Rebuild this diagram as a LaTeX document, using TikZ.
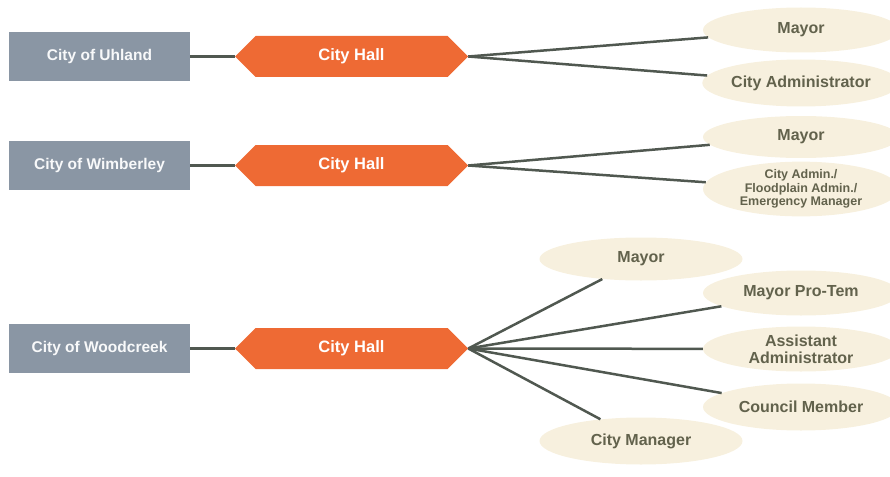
\documentclass[tikz,border=0pt]{standalone}
\usepackage{fontspec}
\setmainfont{Liberation Sans}
\usetikzlibrary{shapes, shapes.symbols}

\definecolor{cityGray}{HTML}{8A96A4}
\definecolor{hallOrange}{HTML}{EE6A34}
\definecolor{roleCream}{HTML}{F7F0DE}
\definecolor{roleText}{HTML}{62624C}
\definecolor{linkGray}{HTML}{505850}

\begin{document}
\begin{tikzpicture}[x=1pt,y=1pt,
		city/.style={rectangle, fill=cityGray, text=white!94!cityGray, font=\bfseries\fontsize{15.5}{18}\selectfont,
			minimum width=181pt, minimum height=49pt},
		hall/.style={signal, signal to=west and east, signal pointer angle=90, fill=hallOrange, text=white,
			font=\bfseries\fontsize{16.5}{18}\selectfont, minimum width=233pt, minimum height=41pt, inner sep=0pt},
		role/.style={ellipse, fill=roleCream, text=roleText, font=\bfseries\fontsize{16}{17}\selectfont,
			minimum width=196pt, minimum height=45pt, inner sep=0pt, align=center},
		link/.style={draw=linkGray, line width=2.5pt}]

		\useasboundingbox (0,0) rectangle (890,-476);

		\node[city] (U)  at (99.5,-56.5) {City of Uhland};
		\node[city] (W)  [below of=U, node distance=109pt] {City of Wimberley};
		\node[city] (D)  [below of=W, node distance=183pt] {City of Woodcreek};

		\node[hall] (HU) [right of=U, node distance=252pt] {City Hall};
		\node[hall] (HW) [right of=W, node distance=252pt] {City Hall};
		\node[hall] (HD) [right of=D, node distance=252pt] {City Hall};

		\node[role] (MU) at (801,-30) {Mayor};
		\node[role, minimum height=47pt] (AU) [below of=MU, node distance=53pt] {City Administrator};

		\node[role, minimum height=42pt] (MW) at (801,-137) {Mayor};
		\node[role, minimum height=50pt, font=\bfseries\fontsize{12.5}{13.5}\selectfont] (AW) [below of=MW, node distance=52pt]
			{City Admin./\\Floodplain Admin./\\Emergency Manager};

		\node[role, minimum width=203pt, minimum height=43pt] (MD) at (641,-259) {Mayor};
		\node[role] (PD) at (801,-293) {Mayor Pro-Tem};
		\node[role] (SD) [below of=PD, node distance=56pt] {Assistant\\Administrator};
		\node[role, minimum height=47pt] (CD) [below of=SD, node distance=58pt] {Council Member};
		\node[role, minimum width=203pt, minimum height=47pt] (GD) at (641,-441) {City Manager};

		% city to hall
		\foreach \c/\h in {U/HU, W/HW, D/HD}
			\draw[link] (\c.east) -- (\h.west);

		% hall to roles
		\foreach \h/\r in {HU/MU, HU/AU, HW/MW, HW/AW, HD/MD, HD/PD, HD/SD, HD/CD, HD/GD}
			\draw[link] (\h.east) -- (\r);

	\end{tikzpicture}
\end{document}
